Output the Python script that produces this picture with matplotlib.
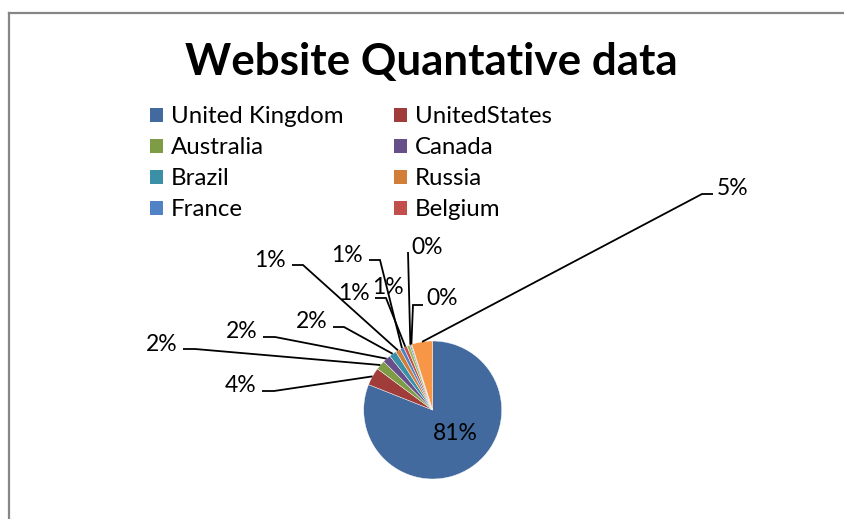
import matplotlib
matplotlib.use("Agg")
import matplotlib.pyplot as plt
from matplotlib.lines import Line2D
import numpy as np

# ---------------- data ----------------
countries = ["United Kingdom", "UnitedStates", "Australia", "Canada", "Brazil",
             "Russia", "France", "Belgium", "Country 9", "Country 10",
             "Country 11", "Other"]
share = [81.0, 4.2, 2.2, 1.9, 1.7, 1.2, 0.9, 0.8, 0.7, 0.3, 0.2, 4.9]
colors = ["#426A9E", "#A03D3A", "#7E9B45", "#674F8A", "#3B8FA6", "#D07E38",
          "#5082C5", "#C24F4C", "#9BBB59", "#8064A2", "#4BACC6", "#F79646"]
title = "Website Quantative data"
legend_count = 8  # the reference legend only shows the first 8 entries

# ---------------- layout (pixels, y from top) ----------------
W, H = 845, 519
FAM = ["Lato", "DejaVu Sans"]
pie_center_px = (432.7, 410.0)
pie_radius_px = 69.0
# label text centre x and baseline y
label_pos = [(455.5, 440), (241, 392.5), (162, 351), (242, 338), (312, 328),
             (270, 267), (347, 261.5), (354, 299.5), (387.5, 293.5),
             (427.5, 253.5), (442.5, 305), (733, 195)]
# leader line start and elbow (None = no line / straight line)
leaders = [None,
           ((262, 391), (274, 391)),
           ((183, 349), (195, 349)),
           ((263, 337), (275, 337)),
           ((333, 327), (344, 327)),
           ((292, 265), (303, 265)),
           ((369, 260), (380, 260)),
           ((375, 298), (386, 298)),
           None,
           ((408, 252), None),
           ((423, 305), (413, 305)),
           ((713, 194), (702, 194))]


def py(y):
    return H - y


fig = plt.figure(figsize=(W / 100, H / 100), dpi=100)
fig.patch.set_facecolor("white")
ax = fig.add_axes([0, 0, 1, 1])

center = (pie_center_px[0], py(pie_center_px[1]))
wedges, _ = ax.pie(share, colors=colors, startangle=90, counterclock=False,
                   radius=pie_radius_px, center=center,
                   wedgeprops=dict(edgecolor="white", linewidth=0.3))
ax.set_xlim(0, W)
ax.set_ylim(0, H)
ax.set_aspect("equal")
ax.axis("off")

fig.canvas.draw()
r = fig.canvas.get_renderer()


def fit(s, target_w, weight="normal", base=20.0):
    t = fig.text(0, 0, s, fontsize=base, fontweight=weight, family=FAM)
    w = t.get_window_extent(r).width
    t.remove()
    return base * target_w / w


fs_title = fit(title, 493, "bold")
fs_leg = fit("United Kingdom", 172)
fs_lab = fit("81%", 45)

# chart border (gray, open to right/bottom as in reference)
bx, by = 9.0, 12.5
fig.add_artist(Line2D([bx / W, 1.0], [py(by) / H, py(by) / H],
                      transform=fig.transFigure, color="#868686",
                      linewidth=1.6, solid_capstyle="projecting"))
fig.add_artist(Line2D([bx / W, bx / W], [0.0, py(by) / H],
                      transform=fig.transFigure, color="#868686",
                      linewidth=1.6, solid_capstyle="projecting"))

# title
ax.text(431.5, py(75), title, fontsize=fs_title, fontweight="bold",
        family=FAM, ha="center", va="baseline", color="black")

# percentage labels and leader lines
total = sum(share)
for i, w in enumerate(wedges):
    pct = round(share[i] / total * 100)
    lx, ly = label_pos[i]
    ax.text(lx, py(ly), f"{pct:.0f}%", fontsize=fs_lab, family=FAM,
            ha="center", va="baseline", color="black")
    if leaders[i] is None:
        continue
    mid = np.deg2rad((w.theta1 + w.theta2) / 2)
    ex = center[0] + pie_radius_px * np.cos(mid)
    ey = center[1] + pie_radius_px * np.sin(mid)
    start, elbow = leaders[i]
    xs = [start[0]]
    ys = [py(start[1])]
    if elbow is not None:
        xs.append(elbow[0])
        ys.append(py(elbow[1]))
    xs.append(ex)
    ys.append(ey)
    ax.plot(xs, ys, color="black", linewidth=1.3, solid_capstyle="butt",
            solid_joinstyle="miter", zorder=3)

# legend (row-wise order like the reference)
order = [0, 2, 4, 6, 1, 3, 5, 7][:legend_count]
fs_px = fs_leg * 100 / 72
sq = 13.5
probe = fig.text(0.5, 200 / H, "United Kingdom", fontsize=fs_leg, family=FAM,
                 va="baseline")
pb = probe.get_window_extent(r)
desc = 200 - pb.y0
text_h = pb.height
probe.remove()
row_pitch = 31.0
lspace = (row_pitch - max(text_h, sq)) / fs_px

leg = ax.legend([wedges[k] for k in order], [countries[k] for k in order],
                ncol=2, loc="upper left", bbox_to_anchor=(148, py(100)),
                bbox_transform=ax.transData, frameon=False,
                prop=dict(family=FAM, size=fs_leg),
                handlelength=sq / fs_px, handleheight=sq / fs_px,
                handletextpad=8 / fs_px, columnspacing=50 / fs_px,
                labelspacing=lspace, borderpad=0, borderaxespad=0)
for h in leg.legend_handles:
    h.set_linewidth(0)

fig.canvas.draw()
# align legend: first label text left at x=171, baseline at y=123.3 (px from top)
bb0 = leg.get_texts()[0].get_window_extent(r)
dx = 171 - bb0.x0
dy = (H - 123.3) - (bb0.y0 + desc)
leg.set_bbox_to_anchor((148 + dx, py(100) + dy), transform=ax.transData)

fig.savefig("out.png", dpi=100, facecolor="white")
